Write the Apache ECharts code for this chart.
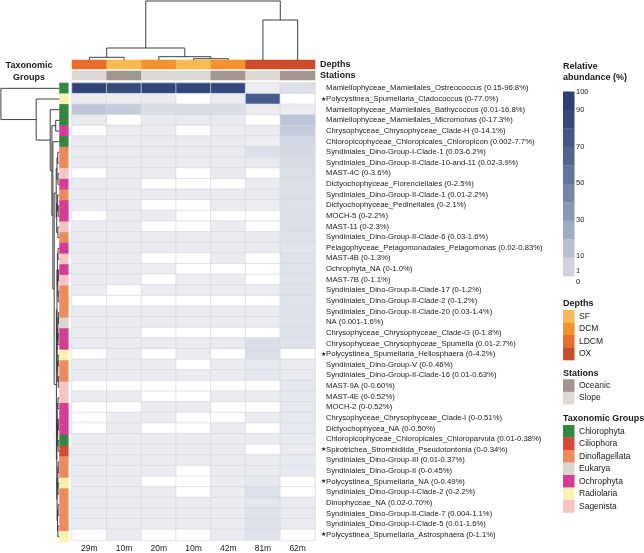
<!DOCTYPE html>
<html><head><meta charset="utf-8">
<script src="https://cdn.jsdelivr.net/npm/echarts@6/dist/echarts.min.js"></script>
<style>html,body{margin:0;padding:0;background:#fff}#c{width:644px;height:553px}</style>
</head><body><div id="c"></div>
<script>
// ---------------- data ----------------
const columnLabels = ['29m','10m','20m','10m','42m','81m','62m'];
const columnDepths = ['LDCM','SF','DCM','SF','DCM','OX','OX'];
const columnStations = ['Slope','Oceanic','Slope','Slope','Oceanic','Slope','Oceanic'];

const taxaNames = [
 'Mamiellophyceae_Mamiellales_Ostreococcus (0.15-96.8%)',
 'Polycystinea_Spumellaria_Cladococcus (0-77.0%)',
 'Mamiellophyceae_Mamiellales_Bathycoccus (0.01-16.8%)',
 'Mamiellophyceae_Mamiellales_Micromonas (0-17.3%)',
 'Chrysophyceae_Chrysophyceae_Clade-H (0-14.1%)',
 'Chloropicophyceae_Chloropicales_Chloropicon (0.002-7.7%)',
 'Syndiniales_Dino-Group-I-Clade-1 (0.03-6.2%)',
 'Syndiniales_Dino-Group-II-Clade-10-and-11 (0.02-3.9%)',
 'MAST-4C (0-3.6%)',
 'Dictyochophyceae_Florenciellales (0-2.5%)',
 'Syndiniales_Dino-Group-II-Clade-1 (0.01-2.2%)',
 'Dictyochophyceae_Pedinellales (0-2.1%)',
 'MOCH-5 (0-2.2%)',
 'MAST-11 (0-2.3%)',
 'Syndiniales_Dino-Group-II-Clade-6 (0.03-1.6%)',
 'Pelagophyceae_Pelagomonadales_Pelagomonas (0.02-0.83%)',
 'MAST-4B (0-1.3%)',
 'Ochrophyta_NA (0-1.0%)',
 'MAST-7B (0-1.1%)',
 'Syndiniales_Dino-Group-II-Clade-17 (0-1.2%)',
 'Syndiniales_Dino-Group-II-Clade-2 (0-1.2%)',
 'Syndiniales_Dino-Group-II-Clade-20 (0.03-1.4%)',
 'NA (0.001-1.6%)',
 'Chrysophyceae_Chrysophyceae_Clade-G (0-1.8%)',
 'Chrysophyceae_Chrysophyceae_Spumella (0.01-2.7%)',
 'Polycystinea_Spumellaria_Heliosphaera (0-4.2%)',
 'Syndiniales_Dino-Group-V (0-0.46%)',
 'Syndiniales_Dino-Group-II-Clade-16 (0.01-0.63%)',
 'MAST-9A (0-0.60%)',
 'MAST-4E (0-0.52%)',
 'MOCH-2 (0-0.52%)',
 'Chrysophyceae_Chrysophyceae_Clade-I (0-0.51%)',
 'Dictyochophycea_NA (0-0.50%)',
 'Chloropicophyceae_Chloropicales_Chloroparvula (0.01-0.38%)',
 'Spirotrichea_Strombidiida_Pseudotontonia (0-0.34%)',
 'Syndiniales_Dino-Group-III (0.01-0.37%)',
 'Syndiniales_Dino-Group-II (0-0.45%)',
 'Polycystinea_Spumellaria_NA (0-0.49%)',
 'Syndiniales_Dino-Group-I-Clade-2 (0-2.2%)',
 'Dinophyceae_NA (0.02-0.70%)',
 'Syndiniales_Dino-Group-II-Clade-7 (0.004-1.1%)',
 'Syndiniales_Dino-Group-I-Clade-5 (0.01-1.6%)',
 'Polycystinea_Spumellaria_Astrosphaera (0-1.1%)'
];
const starredRows = [1, 25, 34, 37, 42];

const taxaGroups = [
 'Chlorophyta','Radiolaria','Chlorophyta','Chlorophyta','Ochrophyta','Chlorophyta',
 'Dinoflagellata','Dinoflagellata','Sagenista','Ochrophyta','Dinoflagellata','Ochrophyta',
 'Ochrophyta','Sagenista','Dinoflagellata','Ochrophyta','Sagenista','Ochrophyta','Sagenista',
 'Dinoflagellata','Dinoflagellata','Dinoflagellata','Eukarya','Ochrophyta','Ochrophyta',
 'Radiolaria','Dinoflagellata','Dinoflagellata','Sagenista','Sagenista','Ochrophyta',
 'Ochrophyta','Ochrophyta','Chlorophyta','Ciliophora','Dinoflagellata','Dinoflagellata',
 'Radiolaria','Dinoflagellata','Dinoflagellata','Dinoflagellata','Dinoflagellata','Radiolaria'
];

// relative abundance (%) per taxon (rows) and sample (columns)
const abundance = [
 [96.8, 92, 95, 94, 93, 0.15, 2.5],
 [0.3, 0.2, 0.3, 0, 0.2, 77.0, 0],
 [16.8, 14, 4, 4.5, 4, 0.2, 0.2],
 [0.4, 0, 0.4, 0.4, 0.4, 0, 17.3],
 [0, 0.2, 0.3, 0, 0.2, 0.3, 14.1],
 [0.3, 0.2, 0.3, 0.3, 0.3, 0.002, 7.7],
 [0.3, 0.3, 0.4, 0.3, 0.4, 3.0, 6.2],
 [0.3, 0.3, 0.3, 0.2, 0.3, 0.4, 3.9],
 [0, 0.2, 0.2, 0, 0.3, 0, 3.6],
 [0.2, 0.3, 0, 0, 0, 0.2, 2.5],
 [0.3, 0.2, 0.3, 0.3, 0.2, 0.4, 2.2],
 [0.2, 0.2, 0, 0, 0.2, 0.1, 2.1],
 [0, 0.2, 0.2, 0, 0, 0, 2.2],
 [0.2, 0.2, 0, 0, 0.2, 0, 2.3],
 [0.3, 0.3, 0.3, 0.3, 0.3, 0.4, 1.6],
 [0.3, 0.2, 0.3, 0.2, 0.3, 0.3, 0.83],
 [0.2, 0.2, 0, 0, 0.2, 0, 1.3],
 [0.2, 0.2, 0.1, 0, 0, 0, 1.0],
 [0.2, 0.2, 0, 0.1, 0.2, 0, 1.1],
 [0.2, 0, 0.2, 0.2, 0.2, 0.2, 1.2],
 [0, 0, 0, 0, 0, 0, 1.2],
 [0.3, 0.3, 0.3, 0.3, 0.3, 0.2, 1.4],
 [0.2, 0.2, 0.3, 0.2, 0.3, 0.2, 1.6],
 [0.2, 0.2, 0, 0, 0, 0, 1.8],
 [0.2, 0.2, 0.3, 0.2, 0.3, 2.7, 1.9],
 [0, 0.2, 0, 0.2, 0, 4.2, 0],
 [0.2, 0.2, 0.2, 0, 0.2, 0.46, 0.3],
 [0.2, 0.2, 0.2, 0.2, 0.2, 0.63, 0.3],
 [0, 0, 0, 0, 0, 0, 0.6],
 [0.2, 0.2, 0, 0, 0.2, 0.2, 0.52],
 [0, 0, 0.2, 0.2, 0, 0, 0.52],
 [0, 0.2, 0.2, 0, 0, 0.2, 0.51],
 [0, 0.2, 0, 0, 0.2, 0, 0.5],
 [0.2, 0.2, 0.2, 0.2, 0.2, 0.2, 0.38],
 [0.2, 0.2, 0.2, 0.2, 0.2, 0, 0.34],
 [0.2, 0.2, 0.2, 0.2, 0.2, 0.2, 0.37],
 [0.2, 0.2, 0.2, 0, 0.2, 0.3, 0.45],
 [0.2, 0.2, 0, 0, 0.2, 0.49, 0],
 [0.2, 0.2, 0.2, 0, 0.2, 2.2, 0],
 [0.2, 0.3, 0.2, 0.2, 0.2, 0.7, 0.3],
 [0.2, 0.2, 0.2, 0.2, 0.2, 1.1, 0.3],
 [0.2, 0.2, 0.2, 0.2, 0.2, 1.6, 0.3],
 [0, 0.2, 0, 0, 0.2, 1.1, 0]
];

const depthLevels = ['SF','DCM','LDCM','OX'];
const depthColors = ['#FBB951','#F5922F','#EA6D29','#CC4B2A'];
const stationLevels = ['Oceanic','Slope'];
const stationColors = ['#A0958F','#DED8D5'];
const groupLevels = ['Chlorophyta','Ciliophora','Dinoflagellata','Eukarya','Ochrophyta','Radiolaria','Sagenista'];
const groupColors = ['#2F8A3F','#DE4532','#F1895A','#DCD5D0','#DA3A95','#FAF1AE','#F8C3C3'];

const scaleBreaks = [0, 0.001, 1, 10, 20, 30, 40, 50, 60, 70, 80, 90, 100];
const scaleColors = ['#FFFFFF','#EEEFF4','#DEE2EB','#CDD3E0','#B6C0D3','#9EABC4','#8797B6',
                     '#7284A8','#60749D','#4F6592','#425889','#364B80','#2C3F76'];
const legendTicks = [100, 90, 70, 50, 30, 10, 1, 0];

// dendrograms: [height, left, right]; leaves are indices
const rowTree = [58.3, 0, [23, 1, [9, 2, [7.3, [3.5, 3, 4], [6.3, 5,
  [5.0,
    [3.0, [2.2, [1.5, 6, 7], [1.2, 8, 9]], [2.5, [1.6, 10, [1.0, 11, 12]], [1.3, 13, 14]]],
    [2.8,
      [2.2, [1.8, [1.2, 15, 16], [1.4, [0.9, 17, 18], [1.0, 19, 20]]],
            [2.0, [1.3, [0.8, 21, 22], [1.1, 23, 24]], [1.5, [1.0, 25, 26], [0.9, 27, 28]]]],
      [2.4, [1.9, [1.2, 29, 30], [1.5, [0.9, 31, 32], [1.1, 33, 34]]],
            [2.1, [1.4, [1.0, 35, 36], [1.2, 37, 38]], [1.7, [1.1, 39, 40], [1.3, 41, 42]]]]
    ]
  ]]]]]];
const colTree = [59, [12, [2.7, 0, 1], [3.3, 2, [1.3, 3, 4]]], [40, 5, 6]];

// ---------------- helpers ----------------
function toScale(v) {
  for (let i = 1; i < scaleBreaks.length; i++) {
    if (v <= scaleBreaks[i]) {
      const a = scaleBreaks[i - 1], b = scaleBreaks[i];
      return (i - 1) + (v - a) / (b - a);
    }
  }
  return scaleBreaks.length - 1;
}
function hexToRgb(h){return [parseInt(h.slice(1,3),16),parseInt(h.slice(3,5),16),parseInt(h.slice(5,7),16)];}
function colorAt(v){
  const p = toScale(v), i = Math.min(Math.floor(p), scaleColors.length - 2), t = p - i;
  const a = hexToRgb(scaleColors[i]), b = hexToRgb(scaleColors[i+1]);
  return 'rgb(' + a.map((x,k)=>Math.round(x+(b[k]-x)*t)).join(',') + ')';
}
function buildLinks(tree, links) {
  if (typeof tree === 'number') return {pos: tree + 0.5, h: 0};
  const a = buildLinks(tree[1], links), b = buildLinks(tree[2], links), h = tree[0];
  links.push([a, b, h]);
  return {pos: (a.pos + b.pos) / 2, h: h};
}
const rowLinks = []; buildLinks(rowTree, rowLinks);
const colLinks = []; buildLinks(colTree, colLinks);

const heatData = [];
abundance.forEach((row, r) => row.forEach((v, c) => heatData.push([c, r, v, toScale(v)])));
const depthData = columnDepths.map((d, c) => [c, 0, depthLevels.indexOf(d)]);
const stationData = columnStations.map((s, c) => [c, 0, stationLevels.indexOf(s)]);
const sideData = taxaGroups.map((g, r) => [0, r, groupLevels.indexOf(g)]);

const FONT = '"Liberation Sans", Arial, Helvetica, sans-serif';
const colCats = columnLabels.map((l, i) => String(i));
const hidden = {show: false};
function hiddenAxis(extra) {
  return Object.assign({axisLine: hidden, axisTick: hidden, axisLabel: hidden, splitLine: hidden}, extra);
}

// ---------------- legend graphics ----------------
const graphics = [];
function text(x, y, s, opt) {
  graphics.push({type: 'text', silent: true, style: Object.assign({
    x: x, y: y, text: s, fill: '#1a1a1a', fontFamily: FONT, fontSize: 8.5,
    verticalAlign: 'middle', align: 'left'}, opt || {})});
}
function rect(x, y, w, h, color) {
  graphics.push({type: 'rect', silent: true, shape: {x: x, y: y, width: w, height: h}, style: {fill: color}});
}
const LX = 563, SW = 11.5, SH = 12.5;
text(29, 66, 'Taxonomic', {fontWeight: 'bold', fontSize: 9, align: 'center'});
text(29, 77.5, 'Groups', {fontWeight: 'bold', fontSize: 9, align: 'center'});
text(LX, 67, 'Relative', {fontWeight: 'bold', fontSize: 9});
text(LX, 78, 'abundance (%)', {fontWeight: 'bold', fontSize: 9});
// colour bar
const barTop = 91.5, barBottom = 276, segs = 10, segH = (barBottom - barTop) / segs;
for (let k = 0; k < segs; k++) {
  const upper = 100 - 10 * k;
  rect(LX, barTop + k * segH, SW, segH + 0.3, colorAt(upper));
}
function legendY(v) {
  if (v >= 10) return 92 + (100 - v) * (256 - 92) / 90;
  if (v >= 1) return 256 + (10 - v) * (271 - 256) / 9;
  return 282;
}
legendTicks.forEach(v => text(LX + 13, legendY(v), String(v), {fontSize: 7.5}));
function catLegend(title, titleY, levels, colors, startY) {
  text(LX, titleY, title, {fontWeight: 'bold', fontSize: 9});
  levels.forEach((l, i) => {
    rect(LX, startY + i * SH, SW, SH + 0.3, colors[i]);
    text(LX + 16, startY + i * SH + SH / 2, l);
  });
}
catLegend('Depths', 304, depthLevels, depthColors, 310);
catLegend('Stations', 374, stationLevels, stationColors, 379.3);
catLegend('Taxonomic Groups', 419, groupLevels, groupColors, 425);

// ---------------- chart ----------------
const HM = {left: 72, width: 243};
const option = {
  animation: false,
  backgroundColor: '#fff',
  textStyle: {fontFamily: FONT},
  grid: [
    {left: HM.left, width: HM.width, top: 83, height: 459},
    {left: HM.left, width: HM.width, top: 60, height: 9},
    {left: HM.left, width: HM.width, top: 71, height: 9},
    {left: 59.5, width: 8.8, top: 83, height: 459},
    {left: 0.5, width: 58.7, top: 83, height: 459},
    {left: HM.left, width: HM.width, top: 1, height: 59}
  ],
  xAxis: [
    {type: 'category', gridIndex: 0, data: colCats, position: 'bottom',
     axisLine: hidden, axisTick: hidden, splitLine: hidden,
     axisLabel: {margin: 4, fontSize: 8.5, color: '#1a1a1a', fontFamily: FONT,
                 formatter: (v, i) => columnLabels[i]}},
    hiddenAxis({type: 'category', gridIndex: 1, data: colCats}),
    hiddenAxis({type: 'category', gridIndex: 2, data: colCats}),
    hiddenAxis({type: 'category', gridIndex: 3, data: ['g']}),
    hiddenAxis({type: 'value', gridIndex: 4, min: 0, max: 58.7, inverse: true}),
    hiddenAxis({type: 'value', gridIndex: 5, min: 0, max: 7})
  ],
  yAxis: [
    {type: 'category', gridIndex: 0, data: taxaNames, inverse: true, position: 'right',
     axisLine: hidden, axisTick: hidden, splitLine: hidden,
     axisLabel: {interval: 0, margin: 11, fontSize: 7.7, color: '#1a1a1a', fontFamily: FONT}},
    {type: 'category', gridIndex: 0, data: taxaNames, inverse: true, position: 'right', offset: 0,
     axisLine: hidden, axisTick: hidden, splitLine: hidden,
     axisLabel: {interval: 0, margin: 6, fontSize: 6, color: '#1a1a1a', fontFamily: 'DejaVu Sans',
                 formatter: (v, i) => starredRows.indexOf(i) >= 0 ? '★' : ''}},
    {type: 'category', gridIndex: 1, data: ['Depths'], position: 'right',
     axisLine: hidden, axisTick: hidden, splitLine: hidden,
     axisLabel: {margin: 5, fontSize: 9, fontWeight: 'bold', color: '#1a1a1a', fontFamily: FONT}},
    {type: 'category', gridIndex: 2, data: ['Stations'], position: 'right',
     axisLine: hidden, axisTick: hidden, splitLine: hidden,
     axisLabel: {margin: 5, fontSize: 9, fontWeight: 'bold', color: '#1a1a1a', fontFamily: FONT}},
    hiddenAxis({type: 'category', gridIndex: 3, data: taxaNames, inverse: true}),
    hiddenAxis({type: 'value', gridIndex: 4, min: 0, max: taxaNames.length, inverse: true}),
    hiddenAxis({type: 'value', gridIndex: 5, min: 0, max: 59})
  ],
  visualMap: [
    {type: 'continuous', show: false, seriesIndex: 0, dimension: 3, min: 0, max: scaleColors.length - 1,
     inRange: {color: scaleColors}},
    {type: 'piecewise', show: false, seriesIndex: 1, dimension: 2,
     pieces: depthColors.map((c, i) => ({value: i, color: c}))},
    {type: 'piecewise', show: false, seriesIndex: 2, dimension: 2,
     pieces: stationColors.map((c, i) => ({value: i, color: c}))},
    {type: 'piecewise', show: false, seriesIndex: 3, dimension: 2,
     pieces: groupColors.map((c, i) => ({value: i, color: c}))}
  ],
  series: [
    {type: 'heatmap', xAxisIndex: 0, yAxisIndex: 0, data: heatData, silent: true,
     itemStyle: {borderColor: '#D9D9DC', borderWidth: 0.7}, emphasis: {disabled: true}},
    {type: 'heatmap', xAxisIndex: 1, yAxisIndex: 2, data: depthData, silent: true, emphasis: {disabled: true}},
    {type: 'heatmap', xAxisIndex: 2, yAxisIndex: 3, data: stationData, silent: true, emphasis: {disabled: true}},
    {type: 'heatmap', xAxisIndex: 3, yAxisIndex: 4, data: sideData, silent: true, emphasis: {disabled: true}},
    {type: 'lines', coordinateSystem: 'cartesian2d', xAxisIndex: 4, yAxisIndex: 5, polyline: true,
     silent: true, clip: false, lineStyle: {color: '#2b2b2b', width: 0.9, opacity: 1},
     data: rowLinks.map(([a, b, h]) => ({coords: [[a.h, a.pos], [h, a.pos], [h, b.pos], [b.h, b.pos]]}))},
    {type: 'lines', coordinateSystem: 'cartesian2d', xAxisIndex: 5, yAxisIndex: 6, polyline: true,
     silent: true, clip: false, lineStyle: {color: '#2b2b2b', width: 0.9, opacity: 1},
     data: colLinks.map(([a, b, h]) => ({coords: [[a.pos, a.h], [a.pos, h], [b.pos, h], [b.pos, b.h]]}))}
  ],
  graphic: graphics
};
const chart = echarts.init(document.getElementById('c'), null, {renderer: 'canvas'});
chart.setOption(option);
</script>
</body></html>
